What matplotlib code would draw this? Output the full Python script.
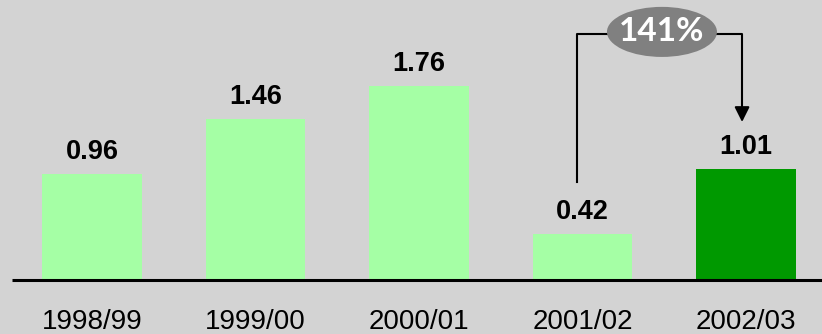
import matplotlib
matplotlib.use("Agg")
import matplotlib.pyplot as plt
from matplotlib.patches import Ellipse

years = ["1998/99", "1999/00", "2000/01", "2001/02", "2002/03"]
values = [0.96, 1.46, 1.76, 0.42, 1.01]
bar_colors = ["#A5FFA5", "#A5FFA5", "#A5FFA5", "#A5FFA5", "#009900"]
growth_label = "141%"

bg = "#D3D3D3"
fig = plt.figure(figsize=(8.22, 3.34), dpi=100, facecolor=bg)
ax = fig.add_axes([0, 0, 1, 1])
ax.set_facecolor(bg)
ax.set_xlim(-0.563, 4.465)
ax.set_ylim(-0.491, 2.545)
ax.axis("off")

x = list(range(len(years)))
ax.bar(x, values, width=0.61, color=bar_colors, zorder=2)

# baseline
ax.plot([-0.489, 4.465], [0, 0], color="black", lw=2.2, solid_capstyle="butt", zorder=3)

# value labels above bars
for xi, v in zip(x, values):
    ax.annotate(f"{v:.2f}", (xi, v), xytext=(0, 11), textcoords="offset points",
                ha="center", va="baseline", fontsize=19.5, fontweight="bold",
                family="Liberation Sans", color="black")

# category labels under the baseline
for xi, yr in zip(x, years):
    ax.text(xi, -0.38, yr, ha="center", va="center", fontsize=20,
            family="Liberation Sans", color="black")

# growth bracket from 2001/02 to 2002/03
xl, xr = 2.966, 3.976
ytop = 2.236
ax.plot([xl, xl, xr, xr], [0.891, ytop, ytop, 1.55], color="black", lw=1.5, zorder=3)
ax.annotate("", xy=(xr, 1.436), xytext=(xr, 1.56),
            arrowprops=dict(arrowstyle="-|>,head_length=0.9,head_width=0.45",
                            color="black", lw=1.5, shrinkA=0, shrinkB=0), zorder=4)

ax.add_patch(Ellipse((3.486, 2.255), 0.673, 0.455, facecolor="#808080",
                     edgecolor="none", zorder=5))
ax.text(3.486, 2.255, growth_label, ha="center", va="center", fontsize=24,
        fontweight="bold", family="Lato", color="white", zorder=6)

fig.savefig("out.png", dpi=100, facecolor=bg)
